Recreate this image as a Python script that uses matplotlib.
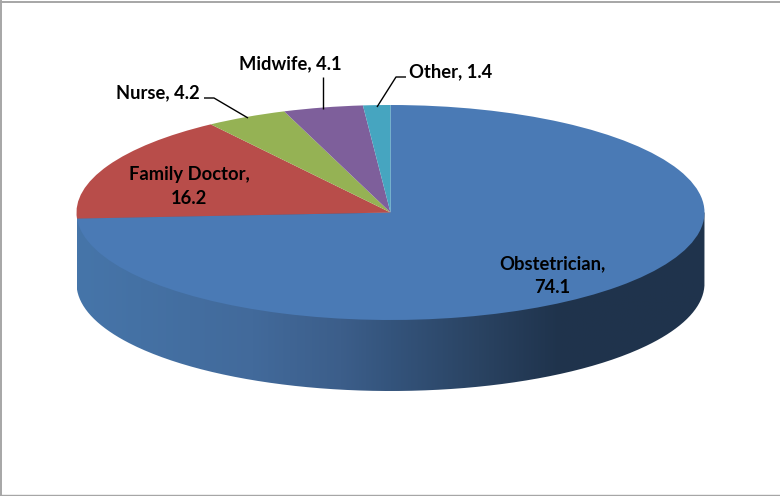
import numpy as np
import matplotlib
matplotlib.use("Agg")
import matplotlib.pyplot as plt
from matplotlib.colors import LinearSegmentedColormap
from matplotlib.path import Path
from matplotlib.patches import PathPatch

categories = ["Obstetrician", "Family Doctor", "Nurse", "Midwife", "Other"]
values = [74.1, 16.2, 4.2, 4.1, 1.4]
colors = ["#4a7ab5", "#b84d4a", "#95b254", "#7e5f9b", "#46a5c0"]

W, H = 780, 496
CX, CY, RX, RY, DEPTH = 390.5, 212.5, 314.0, 107.5, 71.0

def px(x, y):
    return (x - CX) / RX, (CY - y) / RY

fig = plt.figure(figsize=(W / 100, H / 100), dpi=100, facecolor="white")
ax = fig.add_axes([0, 0, 1, 1])
ax.pie(values, colors=colors, startangle=90, counterclock=False, radius=1,
       wedgeprops=dict(linewidth=0))
ax.set_aspect("auto")

# side wall of the disc
t = np.linspace(np.pi, 2 * np.pi, 300)
d = DEPTH / RY
xs = np.r_[-1, 1, np.cos(t[::-1])]
ys = np.r_[0, 0, np.sin(t[::-1]) - d]
wall = Path(np.c_[xs, ys])
stops = [(0.0, "#4675a9"), (0.28, "#426a9b"), (0.42, "#3c5e8a"),
         (0.5, "#34547c"), (0.64, "#2a4362"), (0.77, "#1f334c"), (1.0, "#20344c")]
cmap = LinearSegmentedColormap.from_list("wall", stops)
grad = np.linspace(0, 1, 512)[None, :]
im = ax.imshow(grad, cmap=cmap, extent=(-1, 1, -1 - d, 0.1), aspect="auto",
               interpolation="bilinear", zorder=0)
im.set_clip_path(PathPatch(wall, transform=ax.transData))

ax.set_xlim(px(0, 0)[0], px(W, 0)[0])
ax.set_ylim(px(0, H)[1], px(0, 0)[1])
ax.axis("off")

# labels
label_pos = [(552.5, 275.5), (189.5, 186.5), (157.5, 92.5), (290.5, 63.5), (450.5, 71.5)]
label_text = [
    f"{categories[0]},\n{values[0]}",
    f"{categories[1]},\n{values[1]}",
    f"{categories[2]}, {values[2]}",
    f"{categories[3]}, {values[3]}",
    f"{categories[4]}, {values[4]}",
]
for (x, y), s in zip(label_pos, label_text):
    ax.text(*px(x, y), s, ha="center", va="center", family="Lato",
            fontweight="bold", fontsize=13.2, color="#000000", linespacing=1.48)

# leader lines
leaders = [
    [(204, 98), (214, 98), (248, 118)],
    [(323, 77), (323, 109)],
    [(406, 77), (396, 77), (377, 107)],
]
for seg in leaders:
    pts = np.array([px(*p) for p in seg])
    ax.plot(pts[:, 0], pts[:, 1], color="black", lw=1.0, solid_capstyle="butt")

# outer frame
frame = "#a6a6a6"
fig.add_artist(plt.Line2D([1 / W, 1 / W], [0, 1 - 1 / H], color=frame, lw=1.4))
fig.add_artist(plt.Line2D([0, 1], [1 - 2 / H, 1 - 2 / H], color=frame, lw=1.4))
fig.add_artist(plt.Line2D([0, 1], [0.6 / H, 0.6 / H], color=frame, lw=1.0))

fig.savefig("out.png", dpi=100, facecolor="white")
